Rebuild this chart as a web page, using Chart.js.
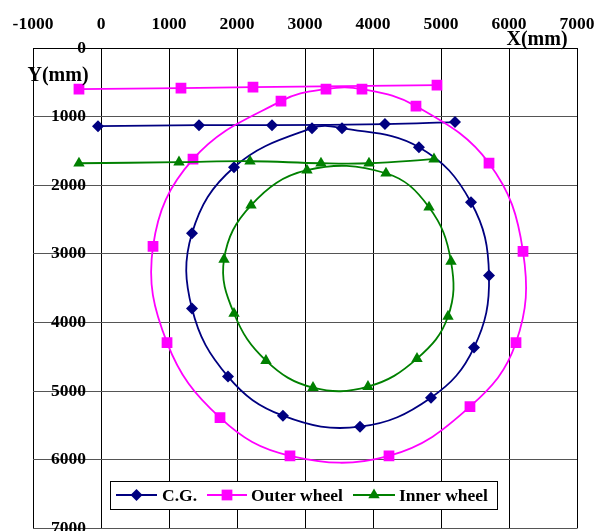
<!DOCTYPE html>
<html><head><meta charset="utf-8">
<script src="https://cdn.jsdelivr.net/npm/chart.js@4/dist/chart.umd.min.js"></script>
<style>html,body{margin:0;padding:0;background:#fff;overflow:hidden;height:531px}</style>
</head><body>
<canvas id="c" width="597" height="536"></canvas>
<script>
// ---- data (mm) ----
const seriesNames = ['C.G.', 'Outer wheel', 'Inner wheel'];
const xTickValues = [-1000, 0, 1000, 2000, 3000, 4000, 5000, 6000, 7000];
const yTickValues = [0, 1000, 2000, 3000, 4000, 5000, 6000, 7000];

// straight approach paths
const cgLineX = [-44, 1441, 2515, 4176, 5206];
const cgLineY = [1139, 1124, 1124, 1109, 1080];
const outerLineX = [-324, 1176, 2235, 4941];
const outerLineY = [599, 584, 569, 540];
const innerLineX = [-324, 1147, 2191, 3235, 3941, 4897];
const innerLineY = [1679, 1664, 1650, 1679, 1679, 1620];

// closed turning circles
const cgLoopX = [1956, 3103, 3544, 4676, 5441, 5706, 5485, 4853, 3809, 2676, 1868, 1338, 1338];
const cgLoopY = [1737, 1168, 1168, 1445, 2248, 3314, 4365, 5095, 5518, 5358, 4788, 3796, 2701];
const outerLoopX = [1353, 2647, 3309, 3838, 4632, 5706, 6206, 6103, 5426, 4235, 2779, 1750, 971, 765];
const outerLoopY = [1620, 774, 599, 599, 847, 1679, 2964, 4292, 5226, 5942, 5942, 5387, 4292, 2891];
const innerLoopX = [2206, 3029, 4191, 4824, 5147, 5103, 4647, 3926, 3118, 2426, 1956, 1809];
const innerLoopY = [2292, 1781, 1825, 2321, 3109, 3912, 4526, 4934, 4949, 4555, 3869, 3080];

// ---- styles ----
const FONT = "'Liberation Serif','Times New Roman',serif";
const colors = ['#000080', '#FF00FF', '#008000'];
const shapes = ['rectRot', 'rect', 'triangle'];
const radii = [6, 7.6, 6.6];

const pts = (xs, ys) => xs.map((x, i) => ({x: x, y: ys[i]}));
const mk = (si, data, closed) => ({
  label: seriesNames[si], data: data, showLine: true, closedLoop: closed,
  borderColor: colors[si], backgroundColor: colors[si], borderWidth: 1.8,
  pointStyle: shapes[si], pointRadius: radii[si], pointBorderWidth: 0,
  pointBackgroundColor: colors[si], pointBorderColor: colors[si],
  tension: 0.4, order: 2 - si, fill: false
});

const datasets = [
  mk(0, pts(cgLineX, cgLineY), false), mk(0, pts(cgLoopX, cgLoopY), true),
  mk(1, pts(outerLineX, outerLineY), false), mk(1, pts(outerLoopX, outerLoopY), true),
  mk(2, pts(innerLineX, innerLineY), false), mk(2, pts(innerLoopX, innerLoopY), true)
];

function drawMarker(ctx, shape, x, y, r, color) {
  ctx.save(); ctx.fillStyle = color; ctx.beginPath();
  if (shape === 'rectRot') {
    ctx.moveTo(x - r, y); ctx.lineTo(x, y - r); ctx.lineTo(x + r, y); ctx.lineTo(x, y + r);
  } else if (shape === 'rect') {
    const s = r * Math.SQRT1_2; ctx.rect(x - s, y - s, 2 * s, 2 * s);
  } else {
    ctx.moveTo(x, y - r); ctx.lineTo(x + r * Math.sin(2 * Math.PI / 3), y + r / 2); ctx.lineTo(x - r * Math.sin(2 * Math.PI / 3), y + r / 2);
  }
  ctx.closePath(); ctx.fill(); ctx.restore();
}

const loopPlugin = {
  id: 'loopPlugin',
  afterDatasetsUpdate(chart) {
    chart.data.datasets.forEach((ds, i) => {
      if (!ds.closedLoop) return;
      const line = chart.getDatasetMeta(i).dataset;
      if (!line) return;
      line._loop = true; line._fullLoop = true;
      line._pointsUpdated = false; line._segments = undefined; line._path = undefined;
    });
  }
};

const decorPlugin = {
  id: 'decor',
  afterDraw(chart) {
    const ctx = chart.ctx;
    ctx.save();
    ctx.fillStyle = '#000';
    ctx.font = 'bold 20px ' + FONT;
    ctx.textAlign = 'center'; ctx.textBaseline = 'middle';
    ctx.fillText('X(mm)', 537, 40);
    ctx.fillText('Y(mm)', 58, 76);
    // legend
    const bx = 110.5, by = 481.5, bw = 387, bh = 28;
    ctx.fillStyle = '#fff'; ctx.fillRect(bx, by, bw, bh);
    ctx.strokeStyle = '#000'; ctx.lineWidth = 1; ctx.strokeRect(bx, by, bw, bh);
    const items = [
      {x1: 116, x2: 157, tx: 162},
      {x1: 207, x2: 247, tx: 251},
      {x1: 353, x2: 395, tx: 399}
    ];
    const ly = 495;
    ctx.font = 'bold 17.5px ' + FONT;
    ctx.textAlign = 'left';
    items.forEach((it, i) => {
      ctx.strokeStyle = colors[i]; ctx.lineWidth = 2;
      ctx.beginPath(); ctx.moveTo(it.x1, ly); ctx.lineTo(it.x2, ly); ctx.stroke();
      drawMarker(ctx, shapes[i], (it.x1 + it.x2) / 2, ly, radii[i], colors[i]);
      ctx.fillStyle = '#000';
      ctx.fillText(seriesNames[i], it.tx, ly + 1);
    });
    ctx.restore();
  }
};

const plain = v => String(v);

new Chart(document.getElementById('c'), {
  type: 'scatter',
  data: {datasets: datasets},
  options: {
    responsive: false, animation: false, devicePixelRatio: 1,
    layout: {padding: {left: 33, right: 20, top: 0, bottom: 0}},
    plugins: {legend: {display: false}, tooltip: {enabled: false}},
    scales: {
      x: {
        type: 'linear', position: 'top', min: -1000, max: 7000,
        afterBuildTicks: s => { s.ticks = xTickValues.map(v => ({value: v})); },
        afterFit: s => { s.height = 48; s.paddingLeft = 0; s.paddingRight = 0; s.paddingTop = 0; s.paddingBottom = 0; },
        ticks: {color: '#000', padding: 13, maxRotation: 0, autoSkip: false, callback: plain,
          font: {family: FONT, size: 17.5, weight: 'bold'}},
        grid: {color: '#000', lineWidth: 1, drawTicks: false},
        border: {display: true, color: '#000'}
      },
      y: {
        type: 'linear', reverse: true, min: 0, max: 7000, position: {x: -220},
        afterBuildTicks: s => { s.ticks = yTickValues.map(v => ({value: v})); },
        afterFit: s => { s.paddingLeft = 0; s.paddingRight = 0; s.paddingTop = 0; s.paddingBottom = 0; },
        ticks: {color: '#000', padding: 0, autoSkip: false, callback: plain,
          font: {family: FONT, size: 17.5, weight: 'bold'}},
        grid: {color: '#555', lineWidth: 1, drawTicks: false},
        border: {display: false}
      }
    }
  },
  plugins: [loopPlugin, decorPlugin]
});
</script>
</body></html>
